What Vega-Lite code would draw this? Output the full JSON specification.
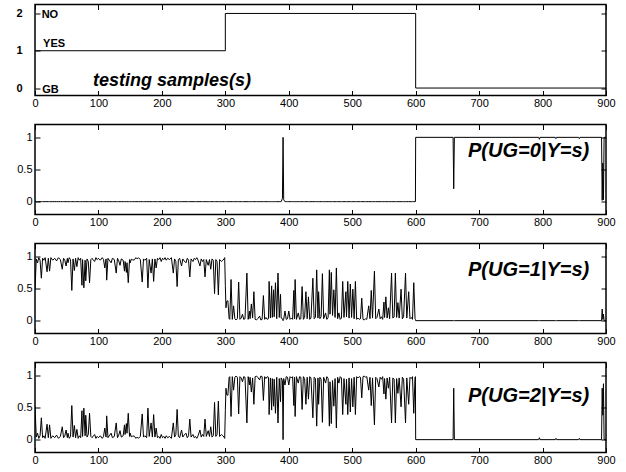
{
"$schema":"https://vega.github.io/schema/vega-lite/v6.json",
"padding":{"left":15,"top":2.5,"right":5,"bottom":2},
"spacing":13,
"config":{
 "font":"Liberation Sans",
 "view":{"stroke":"black","strokeWidth":1.5},
 "axis":{"domain":false,"grid":false,"tickColor":"black","tickSize":-5,"tickWidth":1,"labelColor":"black","labelFontSize":11,"labelFont":"Liberation Sans","labelFlush":false,"labelOverlap":false}
},
"datasets":{
"st":[{"x":0,"y":1},{"x":300,"y":2},{"x":600,"y":0},{"x":900,"y":0}],
"p":[
{"x":0,"a":0,"b":0.48,"c":0.52},{"x":2,"a":0,"b":0.96,"c":0.04},{"x":4,"a":0,"b":0.9,"c":0.1},{"x":6,"a":0,"b":0.98,"c":0.02},{"x":8,"a":0,"b":0.94,"c":0.06},
{"x":10,"a":0,"b":0.66,"c":0.34},{"x":12,"a":0,"b":0.97,"c":0.03},{"x":14,"a":0,"b":0.94,"c":0.06},{"x":16,"a":0,"b":0.98,"c":0.02},{"x":19,"a":0,"b":0.76,"c":0.24},
{"x":21,"a":0,"b":0.97,"c":0.03},{"x":23,"a":0,"b":0.77,"c":0.23},{"x":25,"a":0,"b":0.98,"c":0.02},{"x":28,"a":0,"b":0.94,"c":0.06},{"x":31,"a":0,"b":0.97,"c":0.03},
{"x":34,"a":0,"b":0.93,"c":0.07},{"x":37,"a":0,"b":0.98,"c":0.02},{"x":40,"a":0,"b":0.95,"c":0.05},{"x":43,"a":0,"b":0.8,"c":0.2},{"x":45,"a":0,"b":0.97,"c":0.03},
{"x":47,"a":0,"b":0.94,"c":0.06},{"x":49,"a":0,"b":0.85,"c":0.15},{"x":51,"a":0,"b":0.97,"c":0.03},{"x":52,"a":0,"b":0.9,"c":0.1},{"x":54,"a":0,"b":0.98,"c":0.02},
{"x":56,"a":0,"b":0.95,"c":0.05},{"x":58,"a":0,"b":0.47,"c":0.53},{"x":60,"a":0,"b":0.96,"c":0.04},{"x":62,"a":0,"b":0.78,"c":0.22},{"x":64,"a":0,"b":0.97,"c":0.03},
{"x":66,"a":0,"b":0.84,"c":0.16},{"x":68,"a":0,"b":0.98,"c":0.02},{"x":70,"a":0,"b":0.94,"c":0.06},{"x":72,"a":0,"b":0.97,"c":0.03},{"x":74,"a":0,"b":0.55,"c":0.45},
{"x":75,"a":0,"b":0.95,"c":0.05},{"x":77,"a":0,"b":0.51,"c":0.49},{"x":79,"a":0,"b":0.94,"c":0.06},{"x":80,"a":0,"b":0.62,"c":0.38},{"x":82,"a":0,"b":0.96,"c":0.04},
{"x":84,"a":0,"b":0.92,"c":0.08},{"x":86,"a":0,"b":0.59,"c":0.41},{"x":88,"a":0,"b":0.95,"c":0.05},{"x":90,"a":0,"b":0.97,"c":0.03},{"x":92,"a":0,"b":0.94,"c":0.06},
{"x":94,"a":0,"b":0.92,"c":0.08},{"x":96,"a":0,"b":0.98,"c":0.02},{"x":98,"a":0,"b":0.95,"c":0.05},{"x":100,"a":0,"b":0.97,"c":0.03},{"x":103,"a":0,"b":0.94,"c":0.06},
{"x":106,"a":0,"b":0.98,"c":0.02},{"x":108,"a":0,"b":0.95,"c":0.05},{"x":110,"a":0,"b":0.82,"c":0.18},{"x":112,"a":0,"b":0.96,"c":0.04},{"x":113,"a":0,"b":0.63,"c":0.37},
{"x":115,"a":0,"b":0.97,"c":0.03},{"x":117,"a":0,"b":0.94,"c":0.06},{"x":120,"a":0,"b":0.9,"c":0.1},{"x":122,"a":0,"b":0.97,"c":0.03},{"x":125,"a":0,"b":0.95,"c":0.05},
{"x":128,"a":0,"b":0.74,"c":0.26},{"x":130,"a":0,"b":0.97,"c":0.03},{"x":132,"a":0,"b":0.93,"c":0.07},{"x":134,"a":0,"b":0.86,"c":0.14},{"x":136,"a":0,"b":0.96,"c":0.04},
{"x":139,"a":0,"b":0.94,"c":0.06},{"x":141,"a":0,"b":0.77,"c":0.23},{"x":142,"a":0,"b":0.92,"c":0.08},{"x":144,"a":0,"b":0.75,"c":0.25},{"x":145,"a":0,"b":0.9,"c":0.1},
{"x":147,"a":0,"b":0.59,"c":0.41},{"x":149,"a":0,"b":0.95,"c":0.05},{"x":150,"a":0,"b":0.9,"c":0.1},{"x":152,"a":0,"b":0.96,"c":0.04},{"x":154,"a":0,"b":0.94,"c":0.06},
{"x":157,"a":0,"b":0.95,"c":0.05},{"x":159,"a":0,"b":0.98,"c":0.02},{"x":161,"a":0,"b":0.96,"c":0.04},{"x":163,"a":0,"b":0.98,"c":0.02},{"x":166,"a":0,"b":0.95,"c":0.05},
{"x":169,"a":0,"b":0.6,"c":0.4},{"x":171,"a":0,"b":0.96,"c":0.04},{"x":173,"a":0,"b":0.94,"c":0.06},{"x":176,"a":0,"b":0.97,"c":0.03},{"x":178,"a":0,"b":0.51,"c":0.49},
{"x":180,"a":0,"b":0.95,"c":0.05},{"x":183,"a":0,"b":0.74,"c":0.26},{"x":185,"a":0,"b":0.96,"c":0.04},{"x":187,"a":0,"b":0.61,"c":0.39},{"x":189,"a":0,"b":0.96,"c":0.04},
{"x":191,"a":0,"b":0.82,"c":0.18},{"x":193,"a":0,"b":0.97,"c":0.03},{"x":195,"a":0,"b":0.95,"c":0.05},{"x":197,"a":0,"b":0.98,"c":0.02},{"x":199,"a":0,"b":0.92,"c":0.08},
{"x":201,"a":0,"b":0.97,"c":0.03},{"x":203,"a":0,"b":0.95,"c":0.05},{"x":205,"a":0,"b":0.98,"c":0.02},{"x":207,"a":0,"b":0.94,"c":0.06},{"x":209,"a":0,"b":0.97,"c":0.03},
{"x":212,"a":0,"b":0.95,"c":0.05},{"x":215,"a":0,"b":0.98,"c":0.02},{"x":218,"a":0,"b":0.74,"c":0.26},{"x":220,"a":0,"b":0.96,"c":0.04},{"x":222,"a":0,"b":0.92,"c":0.08},
{"x":224,"a":0,"b":0.53,"c":0.47},{"x":226,"a":0,"b":0.95,"c":0.05},{"x":228,"a":0,"b":0.97,"c":0.03},{"x":231,"a":0,"b":0.85,"c":0.15},{"x":233,"a":0,"b":0.96,"c":0.04},
{"x":235,"a":0,"b":0.93,"c":0.07},{"x":238,"a":0,"b":0.9,"c":0.1},{"x":240,"a":0,"b":0.97,"c":0.03},{"x":242,"a":0,"b":0.94,"c":0.06},{"x":244,"a":0,"b":0.68,"c":0.32},
{"x":246,"a":0,"b":0.96,"c":0.04},{"x":249,"a":0,"b":0.92,"c":0.08},{"x":251,"a":0,"b":0.97,"c":0.03},{"x":253,"a":0,"b":0.95,"c":0.05},{"x":255,"a":0,"b":0.98,"c":0.02},
{"x":257,"a":0,"b":0.94,"c":0.06},{"x":260,"a":0,"b":0.85,"c":0.15},{"x":262,"a":0,"b":0.96,"c":0.04},{"x":264,"a":0,"b":0.92,"c":0.08},{"x":266,"a":0,"b":0.95,"c":0.05},
{"x":268,"a":0,"b":0.68,"c":0.32},{"x":270,"a":0,"b":0.95,"c":0.05},{"x":273,"a":0,"b":0.86,"c":0.14},{"x":275,"a":0,"b":0.95,"c":0.05},{"x":277,"a":0,"b":0.8,"c":0.2},
{"x":279,"a":0,"b":0.96,"c":0.04},{"x":281,"a":0,"b":0.94,"c":0.06},{"x":283,"a":0,"b":0.42,"c":0.58},{"x":285,"a":0,"b":0.95,"c":0.05},{"x":287,"a":0,"b":0.92,"c":0.08},
{"x":289,"a":0,"b":0.4,"c":0.6},{"x":291,"a":0,"b":0.95,"c":0.05},{"x":294,"a":0,"b":0.92,"c":0.08},{"x":296,"a":0,"b":0.94,"c":0.06},{"x":298,"a":0,"b":0.96,"c":0.04},
{"x":299,"a":0,"b":0.98,"c":0.02},{"x":300,"a":0,"b":0.55,"c":0.45},{"x":301,"a":0,"b":0.2,"c":0.8},{"x":302,"a":0,"b":0.3,"c":0.7},{"x":304,"a":0,"b":0.31,"c":0.69},
{"x":306,"a":0,"b":0.03,"c":0.97},{"x":307,"a":0,"b":0.02,"c":0.98},{"x":309,"a":0,"b":0.64,"c":0.36},{"x":311,"a":0,"b":0.02,"c":0.98},{"x":313,"a":0,"b":0.23,"c":0.77},
{"x":315,"a":0,"b":0.03,"c":0.97},{"x":317,"a":0,"b":0.01,"c":0.99},{"x":319,"a":0,"b":0.03,"c":0.97},{"x":321,"a":0,"b":0.6,"c":0.4},{"x":323,"a":0,"b":0.02,"c":0.98},
{"x":325,"a":0,"b":0.04,"c":0.96},{"x":327,"a":0,"b":0.1,"c":0.9},{"x":329,"a":0,"b":0.02,"c":0.98},{"x":331,"a":0,"b":0.03,"c":0.97},{"x":334,"a":0,"b":0.74,"c":0.26},
{"x":336,"a":0,"b":0.02,"c":0.98},{"x":338,"a":0,"b":0.15,"c":0.85},{"x":339,"a":0,"b":0.03,"c":0.97},{"x":341,"a":0,"b":0.26,"c":0.74},{"x":343,"a":0,"b":0.04,"c":0.96},
{"x":345,"a":0,"b":0.45,"c":0.55},{"x":347,"a":0,"b":0.02,"c":0.98},{"x":349,"a":0,"b":0.01,"c":0.99},{"x":351,"a":0,"b":0.03,"c":0.97},{"x":354,"a":0,"b":0.07,"c":0.93},
{"x":356,"a":0,"b":0.01,"c":0.99},{"x":358,"a":0,"b":0.02,"c":0.98},{"x":360,"a":0,"b":0.39,"c":0.61},{"x":362,"a":0,"b":0.02,"c":0.98},{"x":364,"a":0,"b":0.05,"c":0.95},
{"x":366,"a":0,"b":0.02,"c":0.98},{"x":368,"a":0,"b":0.03,"c":0.97},{"x":369,"a":0,"b":0.61,"c":0.39},{"x":371,"a":0,"b":0.04,"c":0.96},{"x":373,"a":0,"b":0.54,"c":0.46},
{"x":374,"a":0,"b":0.05,"c":0.95},{"x":376,"a":0,"b":0.48,"c":0.52},{"x":377,"a":0,"b":0.06,"c":0.94},{"x":379,"a":0,"b":0.59,"c":0.41},{"x":381,"a":0,"b":0.03,"c":0.97},
{"x":383,"a":0,"b":0.74,"c":0.26},{"x":385,"a":0,"b":0.05,"c":0.95},{"x":387,"a":0,"b":0.41,"c":0.59},{"x":388,"a":0,"b":0.04,"c":0.96},{"x":390,"a":0.05,"b":0.03,"c":0.92},
{"x":391,"a":1,"b":0,"c":0},{"x":392,"a":0.03,"b":0.02,"c":0.95},{"x":394,"a":0,"b":0.15,"c":0.85},{"x":396,"a":0,"b":0.02,"c":0.98},{"x":398,"a":0,"b":0.03,"c":0.97},
{"x":400,"a":0,"b":0.15,"c":0.85},{"x":402,"a":0,"b":0.02,"c":0.98},{"x":404,"a":0,"b":0.04,"c":0.96},{"x":406,"a":0,"b":0.02,"c":0.98},{"x":408,"a":0,"b":0.47,"c":0.53},
{"x":409,"a":0,"b":0.03,"c":0.97},{"x":410,"a":0,"b":0.64,"c":0.36},{"x":412,"a":0,"b":0.02,"c":0.98},{"x":415,"a":0,"b":0.12,"c":0.88},{"x":417,"a":0,"b":0.02,"c":0.98},
{"x":419,"a":0,"b":0.03,"c":0.97},{"x":421,"a":0,"b":0.53,"c":0.47},{"x":423,"a":0,"b":0.02,"c":0.98},{"x":425,"a":0,"b":0.05,"c":0.95},{"x":427,"a":0,"b":0.45,"c":0.55},
{"x":429,"a":0,"b":0.03,"c":0.97},{"x":431,"a":0,"b":0.37,"c":0.63},{"x":433,"a":0,"b":0.02,"c":0.98},{"x":435,"a":0,"b":0.04,"c":0.96},{"x":438,"a":0,"b":0.66,"c":0.34},
{"x":440,"a":0,"b":0.03,"c":0.97},{"x":442,"a":0,"b":0.05,"c":0.95},{"x":444,"a":0,"b":0.79,"c":0.21},{"x":446,"a":0,"b":0.04,"c":0.96},{"x":447,"a":0,"b":0.45,"c":0.55},
{"x":449,"a":0,"b":0.03,"c":0.97},{"x":451,"a":0,"b":0.06,"c":0.94},{"x":453,"a":0,"b":0.73,"c":0.27},{"x":455,"a":0,"b":0.03,"c":0.97},{"x":458,"a":0,"b":0.12,"c":0.88},
{"x":460,"a":0,"b":0.02,"c":0.98},{"x":462,"a":0,"b":0.05,"c":0.95},{"x":464,"a":0,"b":0.79,"c":0.21},{"x":465,"a":0,"b":0.1,"c":0.9},{"x":467,"a":0,"b":0.75,"c":0.25},
{"x":469,"a":0,"b":0.08,"c":0.92},{"x":471,"a":0,"b":0.48,"c":0.52},{"x":473,"a":0,"b":0.05,"c":0.95},{"x":475,"a":0,"b":0.82,"c":0.18},{"x":477,"a":0,"b":0.03,"c":0.97},
{"x":479,"a":0,"b":0.12,"c":0.88},{"x":481,"a":0,"b":0.02,"c":0.98},{"x":483,"a":0,"b":0.04,"c":0.96},{"x":485,"a":0,"b":0.61,"c":0.39},{"x":487,"a":0,"b":0.05,"c":0.95},
{"x":490,"a":0,"b":0.45,"c":0.55},{"x":491,"a":0,"b":0.06,"c":0.94},{"x":493,"a":0,"b":0.61,"c":0.39},{"x":495,"a":0,"b":0.04,"c":0.96},{"x":497,"a":0,"b":0.57,"c":0.43},
{"x":499,"a":0,"b":0.05,"c":0.95},{"x":501,"a":0,"b":0.49,"c":0.51},{"x":503,"a":0,"b":0.03,"c":0.97},{"x":505,"a":0,"b":0.61,"c":0.39},{"x":507,"a":0,"b":0.02,"c":0.98},
{"x":509,"a":0,"b":0.04,"c":0.96},{"x":511,"a":0,"b":0.02,"c":0.98},{"x":513,"a":0,"b":0.03,"c":0.97},{"x":515,"a":0,"b":0.35,"c":0.65},{"x":517,"a":0,"b":0.02,"c":0.98},
{"x":519,"a":0,"b":0.01,"c":0.99},{"x":521,"a":0,"b":0.03,"c":0.97},{"x":523,"a":0,"b":0.02,"c":0.98},{"x":526,"a":0,"b":0.23,"c":0.77},{"x":528,"a":0,"b":0.03,"c":0.97},
{"x":530,"a":0,"b":0.47,"c":0.53},{"x":532,"a":0,"b":0.04,"c":0.96},{"x":535,"a":0,"b":0.77,"c":0.23},{"x":537,"a":0,"b":0.03,"c":0.97},{"x":539,"a":0,"b":0.05,"c":0.95},
{"x":542,"a":0,"b":0.18,"c":0.82},{"x":544,"a":0,"b":0.03,"c":0.97},{"x":546,"a":0,"b":0.06,"c":0.94},{"x":548,"a":0,"b":0.02,"c":0.98},{"x":550,"a":0,"b":0.29,"c":0.71},
{"x":551,"a":0,"b":0.05,"c":0.95},{"x":553,"a":0,"b":0.37,"c":0.63},{"x":555,"a":0,"b":0.04,"c":0.96},{"x":557,"a":0,"b":0.2,"c":0.8},{"x":559,"a":0,"b":0.03,"c":0.97},
{"x":562,"a":0,"b":0.74,"c":0.26},{"x":564,"a":0,"b":0.04,"c":0.96},{"x":566,"a":0,"b":0.06,"c":0.94},{"x":568,"a":0,"b":0.74,"c":0.26},{"x":570,"a":0,"b":0.05,"c":0.95},
{"x":572,"a":0,"b":0.28,"c":0.72},{"x":574,"a":0,"b":0.04,"c":0.96},{"x":577,"a":0,"b":0.49,"c":0.51},{"x":579,"a":0,"b":0.03,"c":0.97},{"x":581,"a":0,"b":0.06,"c":0.94},
{"x":584,"a":0,"b":0.74,"c":0.26},{"x":586,"a":0,"b":0.04,"c":0.96},{"x":589,"a":0,"b":0.45,"c":0.55},{"x":591,"a":0,"b":0.03,"c":0.97},{"x":593,"a":0,"b":0.05,"c":0.95},
{"x":595,"a":0,"b":0.02,"c":0.98},{"x":597,"a":0,"b":0.59,"c":0.41},{"x":599,"a":0,"b":0.03,"c":0.97},{"x":599.6,"a":0,"b":0.02,"c":0.98},{"x":600,"a":1,"b":0,"c":0},
{"x":659,"a":1,"b":0,"c":0},{"x":660,"a":0.2,"b":0,"c":0.8},{"x":661,"a":1,"b":0,"c":0},
{"x":794,"a":1,"b":0,"c":0},{"x":795,"a":0.97,"b":0,"c":0.03},{"x":796,"a":1,"b":0,"c":0},
{"x":820,"a":1,"b":0,"c":0},{"x":821,"a":0.98,"b":0,"c":0.02},{"x":822,"a":1,"b":0,"c":0},
{"x":857,"a":1,"b":0,"c":0},{"x":858,"a":0.98,"b":0,"c":0.02},{"x":859,"a":1,"b":0,"c":0},
{"x":893,"a":1,"b":0,"c":0},{"x":894,"a":0.02,"b":0.18,"c":0.8},{"x":895,"a":0.6,"b":0.02,"c":0.38},{"x":896,"a":0.03,"b":0.1,"c":0.87},{"x":897,"a":1,"b":0,"c":0},{"x":900,"a":1,"b":0,"c":0}
]
},
"vconcat":[
{
 "width":571,"height":91,
 "layer":[
  {"data":{"name":"st"},"mark":{"type":"line","interpolate":"step-after","color":"black","strokeWidth":1},
   "encoding":{
    "x":{"field":"x","type":"quantitative","scale":{"domain":[0,900],"nice":false,"zero":false},"axis":{"orient":"bottom","values":[0,100,200,300,400,500,600,700,800,900],"title":null,"labelPadding":7}},
    "y":{"field":"y","type":"quantitative","scale":{"domain":[-0.2,2.24],"nice":false,"zero":false},"axis":{"orient":"left","values":[0,1,2],"format":"d","title":null,"labelFontWeight":"bold","labelPadding":18}}}},
  {"data":{"name":"st"},"mark":{"type":"line","opacity":0},
   "encoding":{
    "x":{"field":"x","type":"quantitative","axis":{"orient":"top","values":[0,100,200,300,400,500,600,700,800,900],"labels":false,"title":null}},
    "y":{"field":"y","type":"quantitative","axis":{"orient":"right","values":[0,1,2],"labels":false,"title":null}}}},
  {"data":{"values":[{"x":10.5,"y":1.89,"t":"NO"},{"x":12.7,"y":1.1,"t":"YES"},{"x":11.5,"y":-0.13,"t":"GB"}]},
   "mark":{"type":"text","align":"left","baseline":"alphabetic","fontWeight":"bold","fontSize":11,"color":"black","font":"Liberation Sans"},
   "encoding":{"x":{"field":"x","type":"quantitative","axis":null},"y":{"field":"y","type":"quantitative","axis":null},"text":{"field":"t"}}},
  {"data":{"values":[{"x":91.5,"y":0.05,"t":"testing samples(s)"}]},
   "mark":{"type":"text","align":"left","baseline":"alphabetic","fontWeight":"bold","fontStyle":"italic","fontSize":18,"color":"black","font":"Liberation Sans"},
   "encoding":{"x":{"field":"x","type":"quantitative","axis":null},"y":{"field":"y","type":"quantitative","axis":null},"text":{"field":"t"}}}
 ],
 "resolve":{"axis":{"x":"independent","y":"independent"}}
},
{
 "width":571,"height":90,
 "layer":[
  {"data":{"name":"p"},"mark":{"type":"line","color":"black","strokeWidth":1,"clip":true},
   "encoding":{
    "x":{"field":"x","type":"quantitative","scale":{"domain":[0,900],"nice":false,"zero":false},"axis":{"orient":"bottom","values":[0,100,200,300,400,500,600,700,800,900],"title":null,"labelPadding":7}},
    "y":{"field":"a","type":"quantitative","scale":{"domain":[-0.2,1.2],"nice":false,"zero":false},"axis":{"orient":"left","values":[0,0.5,1],"format":"~g","title":null,"labelPadding":8}}}},
  {"data":{"name":"p"},"mark":{"type":"line","opacity":0},
   "encoding":{
    "x":{"field":"x","type":"quantitative","axis":{"orient":"top","values":[0,100,200,300,400,500,600,700,800,900],"labels":false,"title":null}},
    "y":{"field":"a","type":"quantitative","axis":{"orient":"right","values":[0,0.5,1],"labels":false,"title":null}}}},
  {"data":{"values":[{"x":682.5,"y":0.7,"t":"P(UG=0|Y=s)"}]},
   "mark":{"type":"text","align":"left","baseline":"alphabetic","fontWeight":"bold","fontStyle":"italic","fontSize":20,"color":"black","font":"Liberation Sans"},
   "encoding":{"x":{"field":"x","type":"quantitative","axis":null},"y":{"field":"y","type":"quantitative","axis":null},"text":{"field":"t"}}}
 ],
 "resolve":{"axis":{"x":"independent","y":"independent"}}
},
{
 "width":571,"height":90,
 "layer":[
  {"data":{"name":"p"},"mark":{"type":"line","color":"black","strokeWidth":1,"clip":true},
   "encoding":{
    "x":{"field":"x","type":"quantitative","scale":{"domain":[0,900],"nice":false,"zero":false},"axis":{"orient":"bottom","values":[0,100,200,300,400,500,600,700,800,900],"title":null,"labelPadding":7}},
    "y":{"field":"b","type":"quantitative","scale":{"domain":[-0.2,1.2],"nice":false,"zero":false},"axis":{"orient":"left","values":[0,0.5,1],"format":"~g","title":null,"labelPadding":8}}}},
  {"data":{"name":"p"},"mark":{"type":"line","opacity":0},
   "encoding":{
    "x":{"field":"x","type":"quantitative","axis":{"orient":"top","values":[0,100,200,300,400,500,600,700,800,900],"labels":false,"title":null}},
    "y":{"field":"b","type":"quantitative","axis":{"orient":"right","values":[0,0.5,1],"labels":false,"title":null}}}},
  {"data":{"values":[{"x":682.5,"y":0.7,"t":"P(UG=1|Y=s)"}]},
   "mark":{"type":"text","align":"left","baseline":"alphabetic","fontWeight":"bold","fontStyle":"italic","fontSize":20,"color":"black","font":"Liberation Sans"},
   "encoding":{"x":{"field":"x","type":"quantitative","axis":null},"y":{"field":"y","type":"quantitative","axis":null},"text":{"field":"t"}}}
 ],
 "resolve":{"axis":{"x":"independent","y":"independent"}}
},
{
 "width":571,"height":90,
 "layer":[
  {"data":{"name":"p"},"mark":{"type":"line","color":"black","strokeWidth":1,"clip":true},
   "encoding":{
    "x":{"field":"x","type":"quantitative","scale":{"domain":[0,900],"nice":false,"zero":false},"axis":{"orient":"bottom","values":[0,100,200,300,400,500,600,700,800,900],"title":null,"labelPadding":7}},
    "y":{"field":"c","type":"quantitative","scale":{"domain":[-0.2,1.2],"nice":false,"zero":false},"axis":{"orient":"left","values":[0,0.5,1],"format":"~g","title":null,"labelPadding":8}}}},
  {"data":{"name":"p"},"mark":{"type":"line","opacity":0},
   "encoding":{
    "x":{"field":"x","type":"quantitative","axis":{"orient":"top","values":[0,100,200,300,400,500,600,700,800,900],"labels":false,"title":null}},
    "y":{"field":"c","type":"quantitative","axis":{"orient":"right","values":[0,0.5,1],"labels":false,"title":null}}}},
  {"data":{"values":[{"x":682.5,"y":0.58,"t":"P(UG=2|Y=s)"}]},
   "mark":{"type":"text","align":"left","baseline":"alphabetic","fontWeight":"bold","fontStyle":"italic","fontSize":20,"color":"black","font":"Liberation Sans"},
   "encoding":{"x":{"field":"x","type":"quantitative","axis":null},"y":{"field":"y","type":"quantitative","axis":null},"text":{"field":"t"}}}
 ],
 "resolve":{"axis":{"x":"independent","y":"independent"}}
}
]
}
